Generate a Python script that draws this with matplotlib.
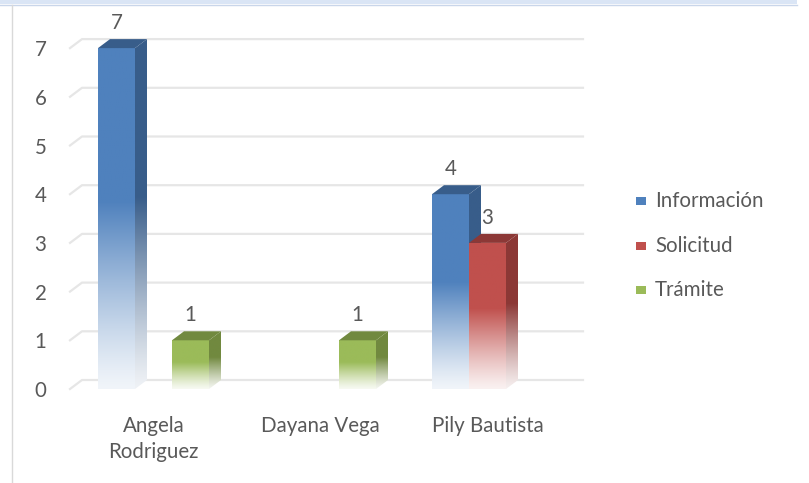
import numpy as np
import matplotlib
matplotlib.use("Agg")
import matplotlib.pyplot as plt
from matplotlib.patches import Polygon, Rectangle
from matplotlib.colors import to_rgb

# datos del grafico
categorias = ["Angela\nRodriguez", "Dayana Vega", "Pily Bautista"]
series = ["Información", "Solicitud", "Trámite"]
informacion = [7, 0, 4]
solicitud = [0, 0, 3]
tramite = [1, 1, 0]
valores = [informacion, solicitud, tramite]
yticks = [0, 1, 2, 3, 4, 5, 6, 7]

colores = ["#4F81BD", "#C0504D", "#9BBB59"]
laterales = ["#385D8A", "#8C3836", "#71893F"]
gris = "#595959"
fs = 14.8

plt.rcParams['font.family'] = ['Lato', 'DejaVu Sans']

W, H, DPI = 809, 483, 100
fig = plt.figure(figsize=(W / DPI, H / DPI), dpi=DPI)

# ejes: plano frontal, 0 en y=389px, 48.7 px por unidad, 167 px por categoria
px_unit = 48.7
px_cat = 167.0
y0_px = 389.0
ymin, ymax = -0.3, 7.6
x_left = 70.0
ax_bottom = (H - (y0_px - ymin * px_unit)) / H
ax_top = (H - (y0_px - ymax * px_unit)) / H
ax = fig.add_axes([x_left / W, ax_bottom, 3 * px_cat / W, ax_top - ax_bottom])
ax.set_xlim(-0.5, 2.5)
ax.set_ylim(ymin, ymax)
for s in ax.spines.values():
    s.set_visible(False)

# profundidad 3D
dx = 12 / px_cat
dy = 9 / px_unit

# lineas de cuadricula (pared de fondo)
for v in yticks:
    ax.plot([-0.5, -0.5 + dx, 2.5 + dx], [v, v + dy, v + dy], color="#e6e6e6",
            lw=1.6, zorder=0, clip_on=False)

ancho = 37 / px_cat


def degradado(color, n=200):
    c = np.array(to_rgb(color))
    f = np.linspace(0, 1, n)  # 0 abajo, 1 arriba
    t = np.clip(f / 0.55, 0, 1)
    t = 0.08 + 0.92 * (t ** 1.2)
    img = c[None, :] * t[:, None] + (1 - t[:, None]) * np.ones(3)[None, :]
    return img[:, None, :]


def cara(poly, color, ext):
    patch = Polygon(poly, closed=True, facecolor="none", edgecolor="none")
    ax.add_patch(patch)
    im = ax.imshow(degradado(color), extent=ext, origin="lower", aspect="auto",
                   interpolation="bilinear", zorder=2)
    im.set_clip_path(patch)


for j, serie in enumerate(series):
    for i, v in enumerate(valores[j]):
        if v == 0:
            continue
        xc = i + (j - 1) * ancho
        xl, xr = xc - ancho / 2, xc + ancho / 2
        # cara lateral
        lado = [(xr, 0), (xr, v), (xr + dx, v + dy), (xr + dx, dy)]
        cara(lado, laterales[j], (xr, xr + dx, 0, v + dy))
        # cara frontal
        frente = [(xl, 0), (xr, 0), (xr, v), (xl, v)]
        cara(frente, colores[j], (xl, xr, 0, v))
        # cara superior
        tapa = [(xl, v), (xr, v), (xr + dx, v + dy), (xl + dx, v + dy)]
        ax.add_patch(Polygon(tapa, closed=True, facecolor=laterales[j],
                             edgecolor="none", zorder=3))
        ax.annotate(str(v), (xc, v), xytext=(0, 18), textcoords="offset points",
                    ha="center", va="center", fontsize=fs, color=gris)

ax.set_xticks(range(len(categorias)))
ax.set_xticklabels(categorias, fontsize=fs, color=gris, linespacing=1.38)
ax.set_yticks(yticks)
ax.set_yticklabels([str(v) for v in yticks], fontsize=fs, color=gris)
ax.tick_params(axis="x", length=0, pad=9)
ax.tick_params(axis="y", length=0, pad=17)

# leyenda
for j, serie in enumerate(series):
    yc = 201 + j * 44.5
    fig.patches.append(Rectangle((636 / W, 1 - (yc + 4) / H), 10 / W, 8 / H,
                                 transform=fig.transFigure, facecolor=colores[j],
                                 edgecolor="none"))
    fig.text(655 / W, 1 - yc / H, serie, fontsize=fs, color=gris,
             ha="left", va="center")

# marco superior e izquierdo
fig.patches.append(Rectangle((0, 1 - 4 / H), 797 / W, 4 / H, transform=fig.transFigure,
                             facecolor="#dae5f5", edgecolor="none"))
fig.lines.append(plt.Line2D([0, 797 / W], [1 - 4.5 / H, 1 - 4.5 / H],
                            transform=fig.transFigure, color="#c9d6ea", lw=1))
fig.lines.append(plt.Line2D([11.5 / W, 11.5 / W], [0, 1 - 5 / H],
                            transform=fig.transFigure, color="#d9d9d9", lw=1))

fig.savefig("out.png", dpi=DPI)
